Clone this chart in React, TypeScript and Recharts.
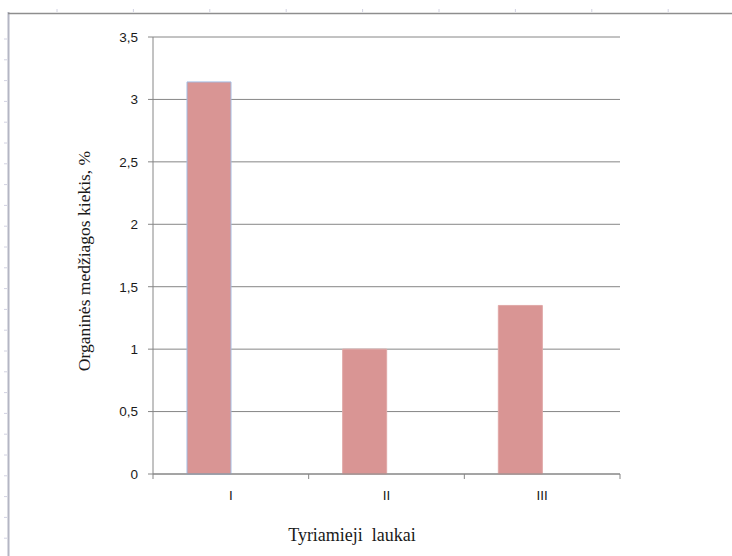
import { BarChart, Bar, XAxis, YAxis, CartesianGrid, Cell } from "recharts";

// Field names, organic matter content (%) and the unused second series slot
const fields = ["I", "II", "III"];
const organicMatter = [3.14, 1.0, 1.35];
const emptySeries: (number | null)[] = [null, null, null];
const yTicks = [0, 0.5, 1, 1.5, 2, 2.5, 3, 3.5];

const yTitle = "Organinės medžiagos kiekis, %";
const xTitle = "Tyriamieji  laukai";

const chartData = fields.map((field, i) => ({
    field,
    organic: organicMatter[i],
    empty: emptySeries[i],
}));

const WIDTH = 732;
const HEIGHT = 556;
const MARGIN = { top: 37, right: 112, left: 0, bottom: 52 };
const Y_AXIS_WIDTH = 153;
const PLOT_WIDTH = WIDTH - MARGIN.left - MARGIN.right - Y_AXIS_WIDTH;

const AXIS_COLOR = "#868686";
const TEXT_COLOR = "#1a1a1a";
const TICK_FONT = "'Liberation Sans', Arial, sans-serif";
const TITLE_FONT = "'Liberation Serif', 'Times New Roman', serif";

// category label plus tick marks on the category boundaries
function FieldTick({ x, y, payload, index }: any) {
    const half = PLOT_WIDTH / fields.length / 2;
    const last = index === fields.length - 1;
    return (
        <g>
            <line x1={x - half} x2={x - half} y1={y} y2={y + 5} stroke={AXIS_COLOR} />
            {last && <line x1={x + half} x2={x + half} y1={y} y2={y + 5} stroke={AXIS_COLOR} />}
            <text
                x={x}
                y={y + 26}
                textAnchor="middle"
                fontSize={13.5}
                fontFamily={TICK_FONT}
                fill={TEXT_COLOR}
            >
                {payload.value}
            </text>
        </g>
    );
}

// faint ruler marks along the page frame
function PageFrame() {
    const topMarks: number[] = [];
    for (let x = 57; x < WIDTH; x += 76.4) topMarks.push(x);
    const leftMarks: number[] = [];
    for (let y = 39; y < HEIGHT; y += 20.8) leftMarks.push(y);
    return (
        <svg width={WIDTH} height={HEIGHT} style={{ position: "absolute", left: 0, top: 0 }}>
            {topMarks.map((x) => (
                <line key={x} x1={x} x2={x} y1={9} y2={12} stroke="#d2d2e2" />
            ))}
            {leftMarks.map((y) => (
                <line key={y} x1={4} x2={7} y1={y} y2={y} stroke="#d2d2e2" />
            ))}
            <line x1={8.5} x2={8.5} y1={12} y2={HEIGHT} stroke="#b4b6c4" strokeWidth={2} />
            <line x1={8} x2={WIDTH} y1={13.5} y2={13.5} stroke="#8e8e8e" strokeWidth={1.5} />
        </svg>
    );
}

export default function App() {
    return (
        <div
            style={{
                position: "fixed",
                left: 0,
                top: 0,
                width: WIDTH,
                height: HEIGHT,
                background: "#ffffff",
            }}
        >
            <PageFrame />
            <div style={{ position: "absolute", left: 0, top: 0 }}>
                <BarChart
                    width={WIDTH}
                    height={HEIGHT}
                    data={chartData}
                    margin={MARGIN}
                    barCategoryGap={34}
                    barGap={0}
                >
                    <CartesianGrid vertical={false} stroke={AXIS_COLOR} />
                    <XAxis
                        dataKey="field"
                        height={30}
                        axisLine={{ stroke: AXIS_COLOR }}
                        tickLine={false}
                        tickSize={0}
                        tickMargin={0}
                        interval={0}
                        tick={<FieldTick />}
                        label={{
                            value: xTitle,
                            content: () => (
                                <text
                                    x={352}
                                    y={541}
                                    textAnchor="middle"
                                    fontSize={18}
                                    fontFamily={TITLE_FONT}
                                    fill={TEXT_COLOR}
                                    style={{ whiteSpace: "pre" }}
                                >
                                    {xTitle}
                                </text>
                            ),
                        }}
                    />
                    <YAxis
                        width={Y_AXIS_WIDTH}
                        domain={[0, 3.5]}
                        ticks={yTicks}
                        interval={0}
                        axisLine={{ stroke: AXIS_COLOR }}
                        tickLine={{ stroke: AXIS_COLOR }}
                        tickSize={5}
                        tickMargin={10}
                        tickFormatter={(v: number) => String(v).replace(".", ",")}
                        tick={{ fontSize: 13.5, fontFamily: TICK_FONT, fill: TEXT_COLOR }}
                        label={{
                            value: yTitle,
                            content: () => (
                                <text
                                    transform="translate(84,261) rotate(-90)"
                                    textAnchor="middle"
                                    dominantBaseline="central"
                                    fontSize={17.5}
                                    fontFamily={TITLE_FONT}
                                    fill={TEXT_COLOR}
                                >
                                    {yTitle}
                                </text>
                            ),
                        }}
                    />
                    <Bar dataKey="organic" fill="#d99594" isAnimationActive={false}>
                        {chartData.map((d, i) => (
                            <Cell
                                key={d.field}
                                stroke={i === 0 ? "#a3bce2" : "#e0a8a7"}
                                strokeWidth={1}
                            />
                        ))}
                    </Bar>
                    <Bar dataKey="empty" fill="#8eb4e3" isAnimationActive={false} />
                </BarChart>
            </div>
        </div>
    );
}
